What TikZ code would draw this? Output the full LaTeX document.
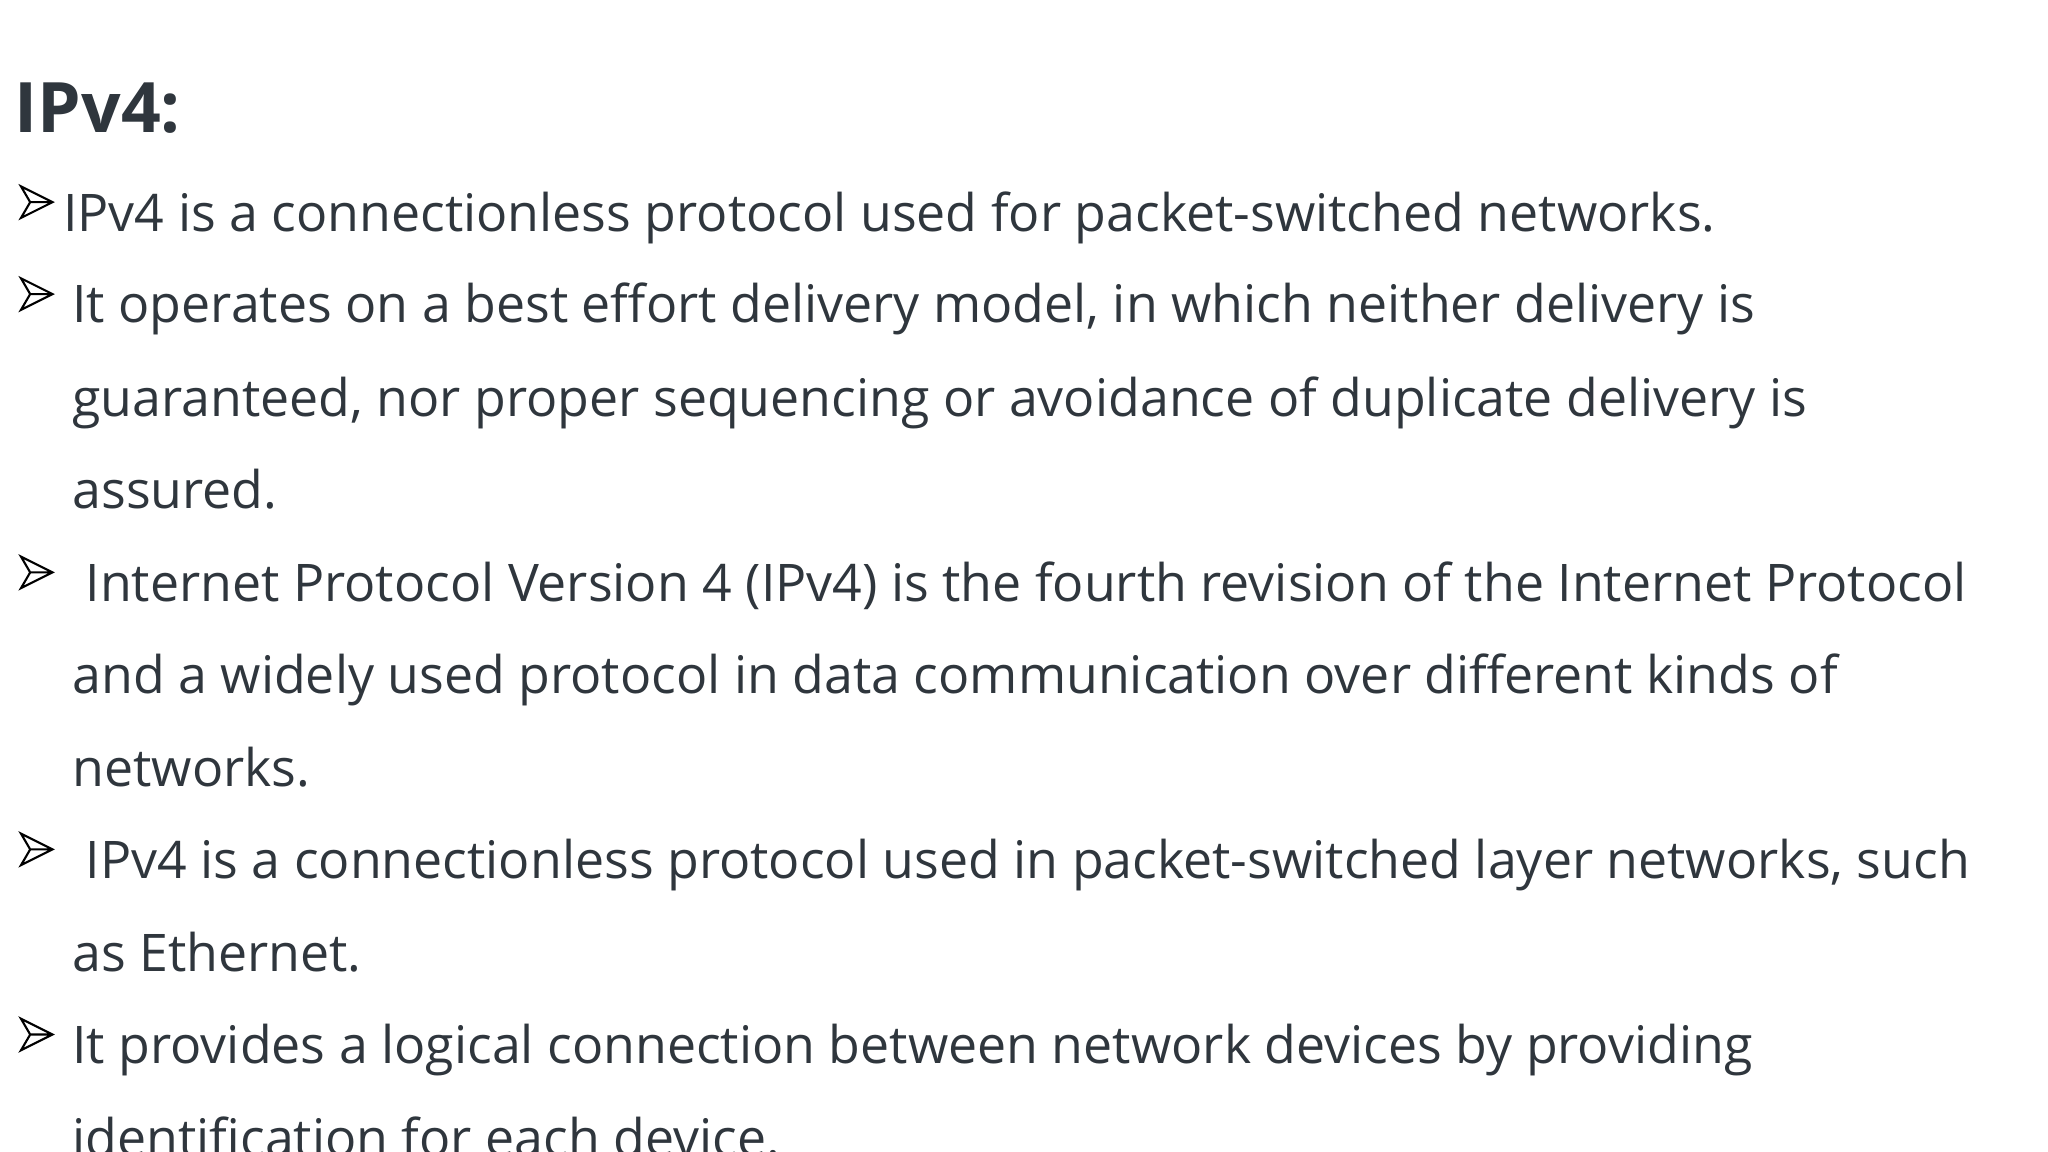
\documentclass[tikz,border=0pt]{standalone}
\usepackage{fontspec}
\setmainfont{Open Sans}
\definecolor{txt}{HTML}{2F363D}
\begin{document}
\begin{tikzpicture}[x=1pt,y=1pt,
  ln/.style={anchor=base west,inner sep=0pt,text=txt,font=\fontsize{39.5}{39.5}\selectfont},
  blt/.pic={\draw[black,line width=1.6pt,line join=miter] (0,12) -- (24,0) -- (0,-12) -- (7,0) -- cycle (7,0) -- (24,0);}]
\useasboundingbox (0,0) rectangle (1560,-877.5);
\node[anchor=base west,inner sep=0pt,text=txt,font=\bfseries\fontsize{53}{53}\selectfont] (title) at (11,-101) {IPv4:};
\pic at (16,-154) {blt};
\node[ln] (l1) at (48,-176) {IPv4 is a connectionless protocol used for packet-switched networks.};
\pic at (16,-224) {blt};
\node[ln] (l2) at (55,-246) {It operates on a best effort delivery model, in which neither delivery is};
\node[ln] (l3) at (55,-317) {guaranteed, nor proper sequencing or avoidance of duplicate delivery is};
\node[ln] (l4) at (55,-387) {assured.};
\pic at (16,-436) {blt};
\node[ln] (l5) at (65,-458) {Internet Protocol Version 4 (IPv4) is the fourth revision of the Internet Protocol};
\node[ln] (l6) at (55,-528) {and a widely used protocol in data communication over different kinds of};
\node[ln] (l7) at (55,-599) {networks.};
\pic at (16,-647) {blt};
\node[ln] (l8) at (65,-669) {IPv4 is a connectionless protocol used in packet-switched layer networks, such};
\node[ln] (l9) at (55,-740) {as Ethernet.};
\pic at (16,-788) {blt};
\node[ln] (l10) at (55,-810) {It provides a logical connection between network devices by providing};
\node[ln] (l11) at (55,-881) {identification for each device.};
\end{tikzpicture}
\end{document}
